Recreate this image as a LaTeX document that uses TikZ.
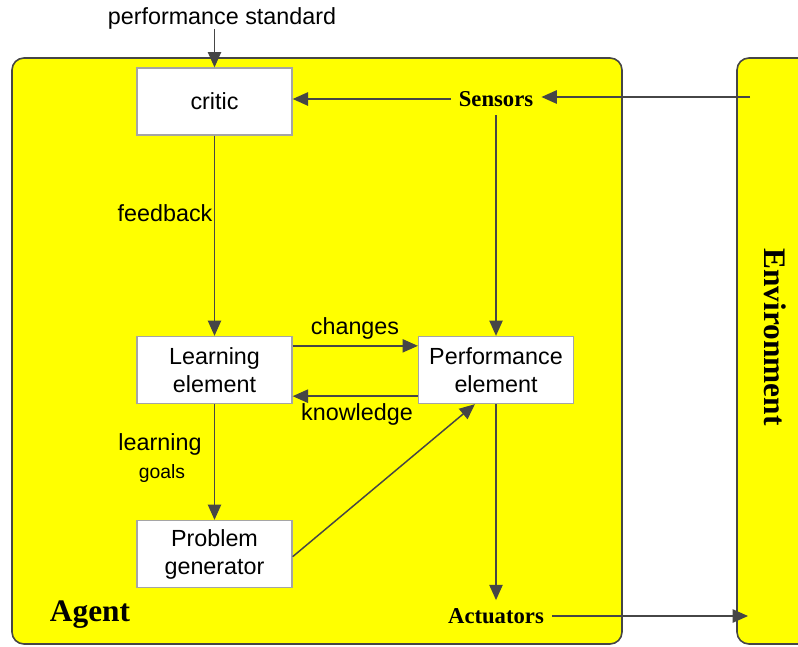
\documentclass[tikz,border=0pt]{standalone}
\usepackage{fontspec}
\setmainfont{Liberation Sans}
\newfontfamily\serifb{Liberation Serif}[BoldFont={* Bold}]
\usetikzlibrary{arrows.meta,calc}
\definecolor{agentyellow}{RGB}{255,255,0}
\definecolor{linegray}{RGB}{70,70,70}
\definecolor{boxgray}{RGB}{165,165,165}
\tikzset{
  panel/.style={draw=linegray, line width=1.2pt, fill=agentyellow, rounded corners=9pt},
  compbox/.style={draw=boxgray, line width=1pt, fill=white, minimum width=116.25pt, minimum height=50.25pt, align=center, font=\fontsize{17.5}{21}\selectfont},
  lbl/.style={font=\fontsize{17.5}{21}\selectfont, inner sep=0pt},
  slbl/.style={font=\fontsize{14.5}{17}\selectfont, inner sep=0pt},
  serlbl/.style={font=\serifb\bfseries\fontsize{17}{20}\selectfont, inner sep=6pt},
  bigser/.style={font=\serifb\bfseries\fontsize{23.5}{27}\selectfont, inner sep=0pt},
  conn/.style={draw=linegray, line width=1.1pt, -{Triangle[length=11.5pt,width=10pt]}},
  plain/.style={draw=linegray, line width=1.1pt}
}
\begin{document}
\begin{tikzpicture}[x=0.75pt,y=-0.75pt]
\useasboundingbox (0,0) rectangle (798,646);
\begin{scope}
\clip (0,0) rectangle (798,646);
\path[panel] (12,58) rectangle (622,644);
\path[panel] (737,58) rectangle (830,644);
\end{scope}
% components
\node[compbox] (critic) at (214.5,101.5) {critic};
\node[compbox] (learn) at (214.5,370) {Learning\\element};
\node[compbox] (perf) at (496,370) {Performance\\element};
\node[compbox] (probgen) at (214.5,554) {Problem\\generator};
% sensors / actuators
\node[serlbl] (sensors) at (496,99) {Sensors};
\node[serlbl] (actuators) at (496,616) {Actuators};
\node[bigser] (agent) at (90,615) {Agent};
\node[bigser, rotate=-90] (env) at (775,337) {Environment};
\node[lbl] (perfstd) at (222,18) {performance standard};
\coordinate (envout) at (750,97);
\coordinate (envin) at (748,616);
% labels
\node[lbl] (fb) at (165,213) {feedback};
\node[lbl] (chg) at (355,328) {changes};
\node[lbl] (knw) at (357,414) {knowledge};
\node[lbl] (lg1) at (160,444) {learning};
\node[slbl] (lg2) at (162,473) {goals};
% connectors
\draw[conn] (perfstd.south -| critic.north) -- (critic.north);
\draw[conn] (sensors.west) -- (critic.east |- sensors.west);
\draw[conn] (envout) -- (envout -| sensors.east);
\draw[conn] (sensors.south) -- (perf.north);
\draw[conn] (critic.south) -- (learn.north);
\draw[conn] ([yshift=-7.5pt]learn.north east) -- ([yshift=-7.5pt]perf.north west);
\draw[conn] ([yshift=6pt]perf.south west) -- ([yshift=6pt]learn.south east);
\draw[conn] (learn.south) -- (probgen.north);
\draw[conn] ([yshift=-2pt]probgen.east) -- ($(perf.south west)!0.365!(perf.south east)$);
\draw[conn] (perf.south) -- (actuators.north);
\draw[conn] (actuators.east) -- (envin);
\end{tikzpicture}
\end{document}
